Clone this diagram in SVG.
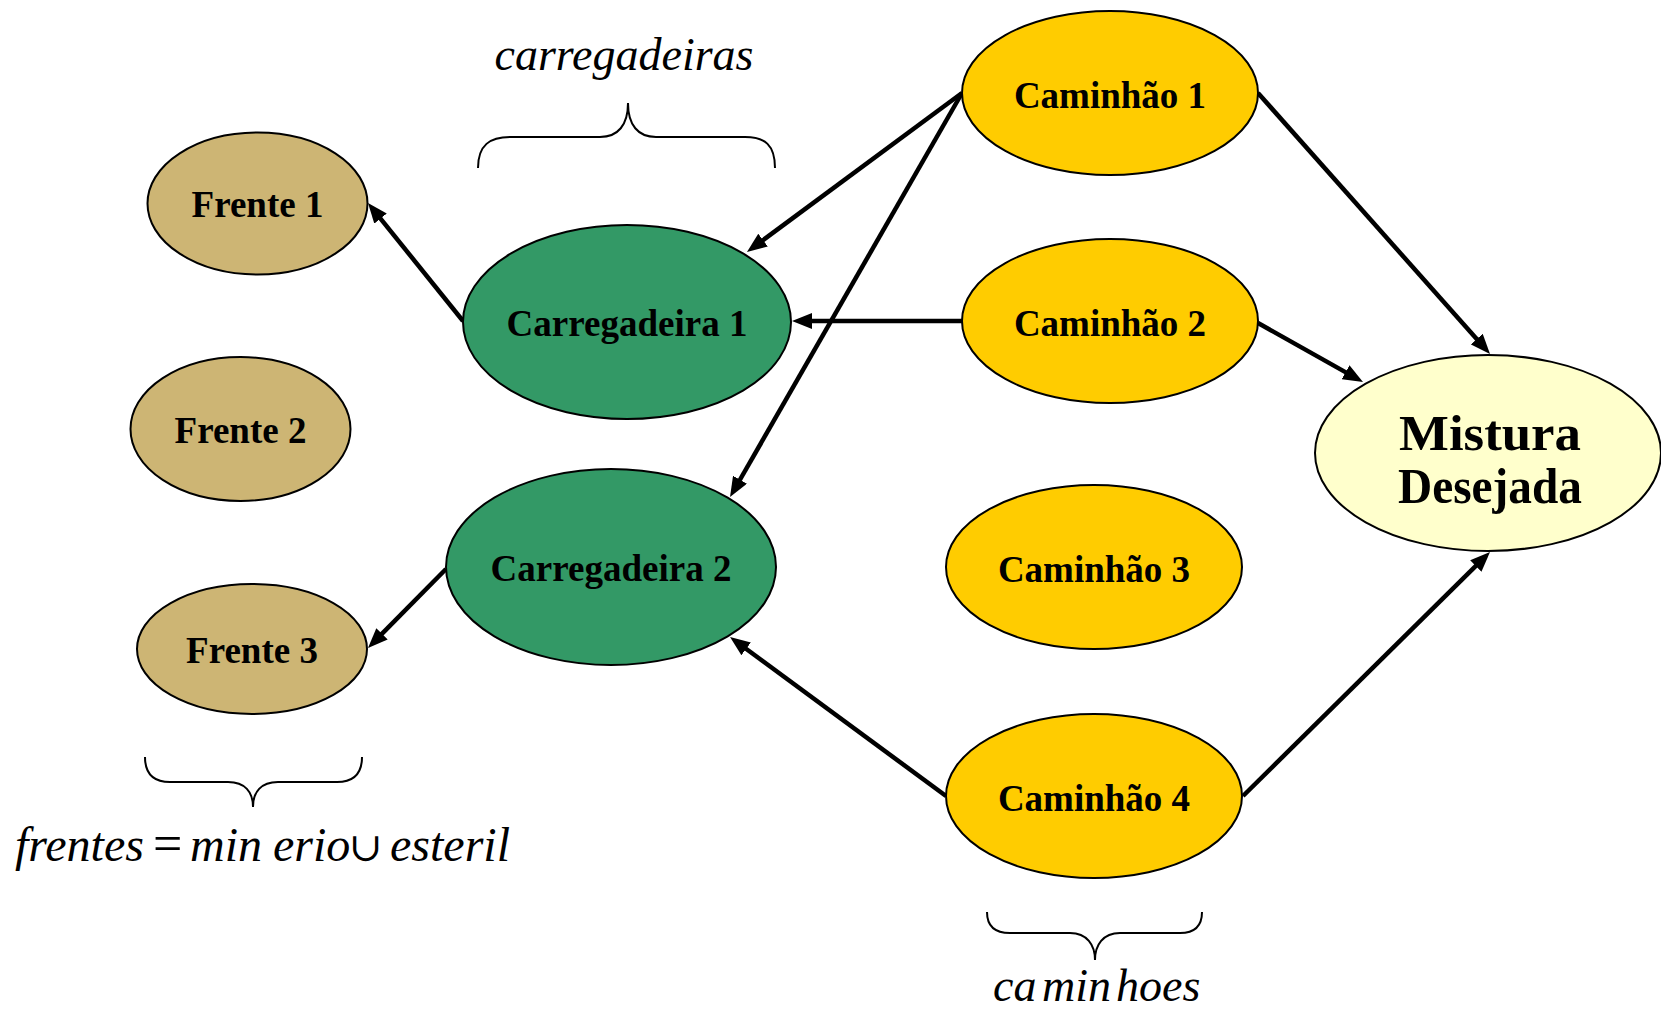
<svg xmlns="http://www.w3.org/2000/svg" width="1661" height="1013" viewBox="0 0 1661 1013">
<style>
.node{stroke:#000;stroke-width:2}
.frente{fill:#CDB574}
.carreg{fill:#339966}
.cam{fill:#FFCC00}
.mist{fill:#FFFFCC}
.lbl{font-family:"Liberation Serif","Times New Roman",serif;font-weight:bold;font-size:37px;fill:#000;text-anchor:middle}
.big{font-size:51px}
.conn{stroke:#000;stroke-width:4.5;fill:none;marker-end:url(#arr)}
.brace{stroke:#000;stroke-width:2;fill:none}
.it{font-family:"Liberation Serif","Times New Roman",serif;font-style:italic;font-size:48px;fill:#000}
.op{font-family:"Liberation Serif","DejaVu Serif",serif;font-style:normal}
</style>
<defs>
<marker id="arr" markerUnits="userSpaceOnUse" markerWidth="20" markerHeight="16" refX="9" refY="8" orient="auto">
<path d="M0,0 L20,8 L0,16 z" fill="#000"/>
</marker>
</defs>
<rect width="1661" height="1013" fill="#fff"/>
<g id="connectors">
<line class="conn" x1="463" y1="321" x2="374.9" y2="211.6"/>
<line class="conn" x1="962" y1="93" x2="755.8" y2="245.5"/>
<line class="conn" x1="962" y1="93" x2="735.5" y2="487.5"/>
<line class="conn" x1="962" y1="321" x2="803" y2="321"/>
<line class="conn" x1="1258" y1="93" x2="1482.7" y2="345.8"/>
<line class="conn" x1="1258" y1="323" x2="1353.4" y2="376.6"/>
<line class="conn" x1="446" y1="569" x2="375.7" y2="640.2"/>
<line class="conn" x1="946" y1="796" x2="738.9" y2="643.5"/>
<line class="conn" x1="1243" y1="796" x2="1482.2" y2="559.7"/>
</g>
<g id="frente1"><ellipse class="node frente" cx="257.5" cy="203.5" rx="110" ry="71"/><text class="lbl" x="257.5" y="217">Frente 1</text></g>
<g id="frente2"><ellipse class="node frente" cx="240.5" cy="429" rx="110" ry="72"/><text class="lbl" x="240.5" y="443">Frente 2</text></g>
<g id="frente3"><ellipse class="node frente" cx="252" cy="649" rx="115" ry="65"/><text class="lbl" x="252" y="663">Frente 3</text></g>
<g id="carregadeira1"><ellipse class="node carreg" cx="627" cy="322" rx="164" ry="97"/><text class="lbl" x="627" y="336">Carregadeira 1</text></g>
<g id="carregadeira2"><ellipse class="node carreg" cx="611" cy="567" rx="165" ry="98"/><text class="lbl" x="611" y="581">Carregadeira 2</text></g>
<g id="caminhao1"><ellipse class="node cam" cx="1110" cy="93" rx="148" ry="82"/><text class="lbl" x="1110" y="108">Caminhão 1</text></g>
<g id="caminhao2"><ellipse class="node cam" cx="1110" cy="321" rx="148" ry="82"/><text class="lbl" x="1110" y="336">Caminhão 2</text></g>
<g id="caminhao3"><ellipse class="node cam" cx="1094" cy="567" rx="148" ry="82"/><text class="lbl" x="1094" y="582">Caminhão 3</text></g>
<g id="caminhao4"><ellipse class="node cam" cx="1094" cy="796" rx="148" ry="82"/><text class="lbl" x="1094" y="811">Caminhão 4</text></g>
<g id="mistura"><ellipse class="node mist" cx="1488" cy="453" rx="173" ry="98"/><text class="lbl big" x="1490" y="450" textLength="182" lengthAdjust="spacingAndGlyphs">Mistura</text><text class="lbl big" x="1490" y="503" textLength="184" lengthAdjust="spacingAndGlyphs">Desejada</text></g>
<g id="brace-carregadeiras">
<path class="brace" d="M478,168 C478,145 490,137 510,137 L600,137 C618,137 628,125 628,103 C628,125 638,137 656,137 L745,137 C765,137 775,145 775,168"/>
<text class="it" x="624" y="70" text-anchor="middle" style="font-size:46px">carregadeiras</text>
</g>
<g id="brace-frentes">
<path class="brace" d="M145,757 C145,775 155,782 170,782 L228,782 C245,782 253,792 253,807 C253,792 261,782 278,782 L337,782 C352,782 362,775 362,757"/>
<text class="it" y="861"><tspan x="15">frentes</tspan><tspan class="op" x="153" font-size="52">=</tspan><tspan x="190">min</tspan><tspan x="273">erio</tspan><tspan class="op" x="349" font-size="40">∪</tspan><tspan x="390">esteril</tspan></text>
</g>
<g id="brace-caminhoes">
<path class="brace" d="M987,912 C987,926 995,933 1010,933 L1070,933 C1087,933 1095,945 1095,960 C1095,945 1103,933 1120,933 L1180,933 C1195,933 1202,926 1202,912"/>
<text class="it" y="1001" style="font-size:46px"><tspan x="993">ca</tspan><tspan x="1042">min</tspan><tspan x="1116">hoes</tspan></text>
</g>
</svg>
